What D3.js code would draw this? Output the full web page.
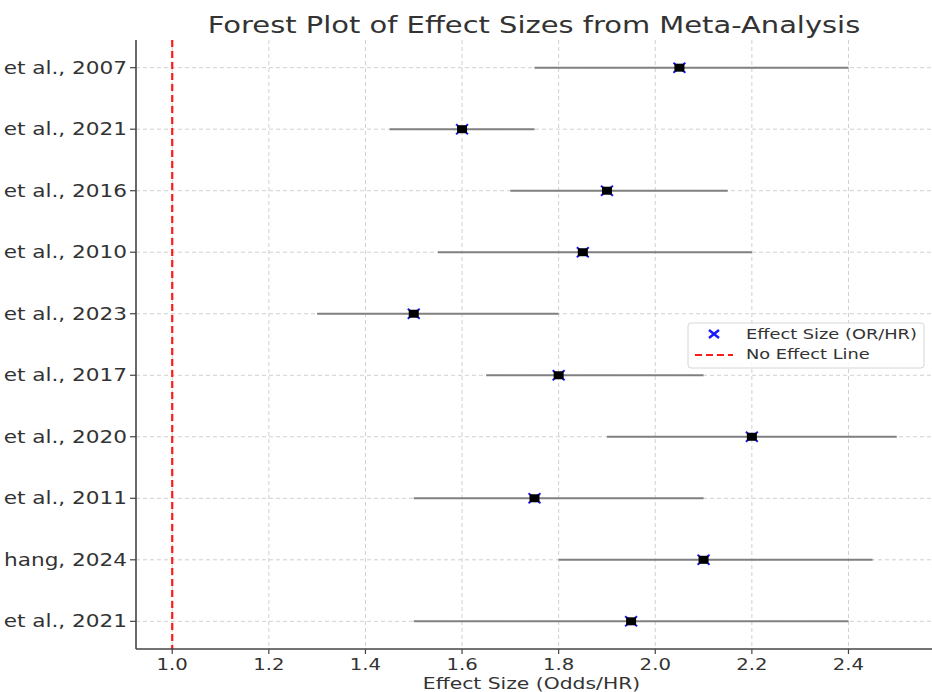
<!DOCTYPE html>
<html>
<head>
<meta charset="utf-8">
<script src="https://cdn.jsdelivr.net/npm/d3@7"></script>
<style>
  body { margin: 0; background: #fff; }
  text { font-family: "DejaVu Sans", sans-serif; fill: #333; }
</style>
</head>
<body>
<svg id="chart" width="932" height="692"></svg>
<script>
// study labels, top to bottom (left part is cropped in the original)
var studies = ["et al., 2007", "et al., 2021", "et al., 2016", "et al., 2010", "et al., 2023",
               "et al., 2017", "et al., 2020", "et al., 2011", "hang, 2024", "et al., 2021"];
var effects = [2.05, 1.60, 1.90, 1.85, 1.50, 1.80, 2.20, 1.75, 2.10, 1.95];
var ciLow   = [1.75, 1.45, 1.70, 1.55, 1.30, 1.65, 1.90, 1.50, 1.80, 1.50];
var ciHigh  = [2.40, 1.75, 2.15, 2.20, 1.80, 2.10, 2.50, 2.10, 2.45, 2.40];
var xTicks  = [1.0, 1.2, 1.4, 1.6, 1.8, 2.0, 2.2, 2.4];

var stretch = 1.27; // the original picture is wider than tall

var svg = d3.select("#chart");
var margin = {left: 136, right: -1, top: 40, bottom: 43};
var width = 932 - margin.left - margin.right,
    height = 692 - margin.top - margin.bottom;

var x = d3.scaleLinear().domain([0.925, 2.575]).range([0, width]);
var y = d3.scaleLinear().domain([-0.45, studies.length - 1 + 0.45]).range([height, 0]);
// row 0 is the bottom study
function rowY(i) { return y(studies.length - 1 - i); }

var g = svg.append("g").attr("transform", "translate(" + margin.left + "," + margin.top + ")");

function stretchedText(sel, px, py, anchor, size, str) {
  return sel.append("text")
    .attr("transform", "translate(" + px + "," + py + ") scale(" + stretch + ",1)")
    .attr("text-anchor", anchor)
    .style("font-size", size + "px")
    .text(str);
}

// grid
g.selectAll(".vgrid").data(xTicks).enter().append("line")
  .attr("x1", function(d) { return x(d); }).attr("x2", function(d) { return x(d); })
  .attr("y1", 0).attr("y2", height)
  .attr("stroke", "#d0d0d0").attr("stroke-width", 1).attr("stroke-dasharray", "4,3");
g.selectAll(".hgrid").data(studies).enter().append("line")
  .attr("x1", 0).attr("x2", width)
  .attr("y1", function(d, i) { return rowY(i); }).attr("y2", function(d, i) { return rowY(i); })
  .attr("stroke", "#d0d0d0").attr("stroke-width", 1).attr("stroke-dasharray", "4,3");

// no effect line
g.append("line")
  .attr("x1", x(1)).attr("x2", x(1)).attr("y1", 0).attr("y2", height)
  .attr("stroke", "#ff1a1a").attr("stroke-width", 2.2).attr("stroke-dasharray", "7,4");

// confidence intervals
g.selectAll(".ci").data(studies).enter().append("line")
  .attr("x1", function(d, i) { return x(ciLow[i]); })
  .attr("x2", function(d, i) { return x(ciHigh[i]); })
  .attr("y1", function(d, i) { return rowY(i); }).attr("y2", function(d, i) { return rowY(i); })
  .attr("stroke", "#808080").attr("stroke-width", 2);

// markers: blue x under a black square
var marks = g.selectAll(".mark").data(studies).enter().append("g")
  .attr("transform", function(d, i) { return "translate(" + x(effects[i]) + "," + rowY(i) + ")"; });
marks.append("path").attr("d", "M-6,-5L6,5M-6,5L6,-5")
  .attr("stroke", "#1a1aff").attr("stroke-width", 2);
marks.append("rect").attr("x", -5).attr("y", -4).attr("width", 10).attr("height", 8)
  .attr("fill", "#000");

// spines
g.append("line").attr("x1", 0).attr("x2", 0).attr("y1", 0).attr("y2", height)
  .attr("stroke", "#444").attr("stroke-width", 1.6);
g.append("line").attr("x1", 0).attr("x2", width).attr("y1", height).attr("y2", height)
  .attr("stroke", "#444").attr("stroke-width", 1.6);

// y ticks and labels
studies.forEach(function(s, i) {
  g.append("line").attr("x1", -6).attr("x2", 0).attr("y1", rowY(i)).attr("y2", rowY(i))
    .attr("stroke", "#444").attr("stroke-width", 1.2);
  stretchedText(g, -9, rowY(i) + 6, "end", 17, s);
});

// x ticks and labels
xTicks.forEach(function(t) {
  g.append("line").attr("x1", x(t)).attr("x2", x(t)).attr("y1", height).attr("y2", height + 5)
    .attr("stroke", "#444").attr("stroke-width", 1.2);
  stretchedText(g, x(t), height + 21, "middle", 15.5, d3.format(".1f")(t));
});

stretchedText(g, x(1.75) - 3, height + 40, "middle", 16, "Effect Size (Odds/HR)");
stretchedText(svg, 534, 33, "middle", 22.8, "Forest Plot of Effect Sizes from Meta-Analysis");

// legend
var lg = svg.append("g").attr("transform", "translate(688,323)");
lg.append("rect").attr("width", 236).attr("height", 45).attr("rx", 3)
  .attr("fill", "#fff").attr("fill-opacity", 0.8).attr("stroke", "#d6d6d6");
lg.append("path").attr("d", "M21,7L31,15M21,15L31,7")
  .attr("stroke", "#1a1aff").attr("stroke-width", 2.5);
lg.append("line").attr("x1", 7).attr("x2", 45).attr("y1", 32).attr("y2", 32)
  .attr("stroke", "#ff1a1a").attr("stroke-width", 2).attr("stroke-dasharray", "7,4");
stretchedText(lg, 58, 16, "start", 14, "Effect Size (OR/HR)");
stretchedText(lg, 58, 36, "start", 14, "No Effect Line");
</script>
</body>
</html>
